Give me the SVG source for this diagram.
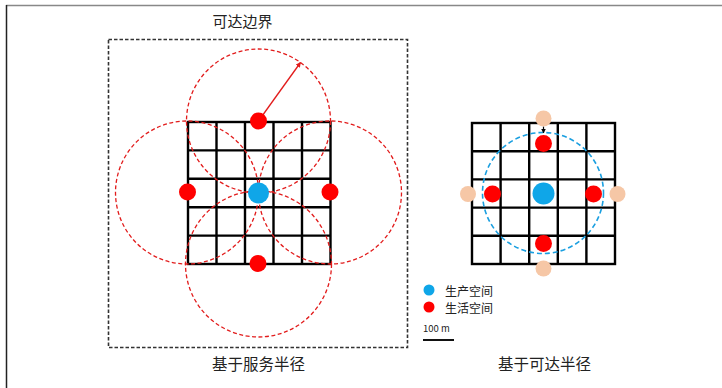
<svg xmlns="http://www.w3.org/2000/svg" width="722" height="388" viewBox="0 0 722 388">
<defs>
<style>
.grid{stroke:#000;stroke-width:2.4;fill:none}
.rc{fill:none;stroke:#e21c1c;stroke-width:1.3;stroke-dasharray:4 2.5}
.bc{fill:none;stroke:#1a9fe0;stroke-width:1.6;stroke-dasharray:5 3}
.red{fill:#ff0000}
.blue{fill:#0fa6e8}
.peach{fill:#f6c7a6}
.t{font-family:"Noto Sans CJK SC","Noto Sans",sans-serif;fill:#222}
</style>
<marker id="ah" viewBox="0 0 10 10" refX="9" refY="5" markerWidth="4" markerHeight="4" orient="auto">
<path d="M0,0 L10,5 L0,10 z" fill="#e21c1c"/>
</marker>
<marker id="ahk" viewBox="0 0 10 10" refX="9" refY="5" markerWidth="4" markerHeight="4" orient="auto">
<path d="M0,0 L10,5 L0,10 z" fill="#000"/>
</marker>
</defs>
<rect width="722" height="388" fill="#fff"/>
<line x1="6" y1="5.5" x2="722" y2="5.5" stroke="#888" stroke-width="1.5"/>
<line x1="6.5" y1="5" x2="6.5" y2="388" stroke="#222" stroke-width="1.5"/>

<g id="left-diagram">
<rect id="boundary" x="108.5" y="39.5" width="299" height="308" fill="none" stroke="#333" stroke-width="1.6" stroke-dasharray="3.5 2"/>
<g id="left-grid" class="grid">
<rect x="188" y="122" width="142.5" height="142"/>
<path d="M216.5,122V264M245,122V264M273.5,122V264M302,122V264M188,150.4H330.5M188,178.8H330.5M188,207.2H330.5M188,235.6H330.5"/>
</g>
<g id="service-circles">
<circle class="rc" cx="258.5" cy="121" r="72"/>
<circle class="rc" cx="258.5" cy="264" r="73"/>
<circle class="rc" cx="187" cy="192.5" r="71.5"/>
<circle class="rc" cx="330" cy="192.5" r="71.5"/>
</g>
<g id="connectors">
<line x1="258.5" y1="121" x2="300.5" y2="62.5" stroke="#e21c1c" stroke-width="1.3" marker-end="url(#ah)"/>
</g>
<g id="left-dots">
<circle class="blue" cx="258.5" cy="193" r="10.5"/>
<circle class="red" cx="258.5" cy="121" r="8.5"/>
<circle class="red" cx="258" cy="263.5" r="8.5"/>
<circle class="red" cx="187.5" cy="192" r="8.5"/>
<circle class="red" cx="330" cy="192" r="8.5"/>
</g>
<text class="t" x="242.5" y="27" font-size="15" text-anchor="middle">可达边界</text>
<text class="t" x="258.5" y="370" font-size="15.5" text-anchor="middle">基于服务半径</text>
</g>

<g id="right-diagram">
<g id="right-grid" class="grid">
<rect x="472" y="123" width="143" height="141"/>
<path d="M500.6,123V264M529.2,123V264M557.8,123V264M586.4,123V264M472,151.2H615M472,179.4H615M472,207.6H615M472,235.8H615"/>
</g>
<circle class="bc" cx="543" cy="193" r="60.5"/>
<g id="right-connector">
<line x1="543.5" y1="126.5" x2="543.5" y2="133" stroke="#000" stroke-width="1.2" marker-end="url(#ahk)"/>
</g>
<g id="right-dots">
<circle class="peach" cx="543.5" cy="118.5" r="8"/>
<circle class="peach" cx="468" cy="194" r="8"/>
<circle class="peach" cx="617.5" cy="194" r="8"/>
<circle class="peach" cx="543.5" cy="268.5" r="8"/>
<circle class="red" cx="543.5" cy="143.5" r="8.5"/>
<circle class="red" cx="492.5" cy="194" r="8.5"/>
<circle class="red" cx="593.5" cy="194" r="8.5"/>
<circle class="red" cx="543.5" cy="243.5" r="8.5"/>
<circle class="blue" cx="543.5" cy="193.5" r="11"/>
</g>
<text class="t" x="544.5" y="370" font-size="15.5" text-anchor="middle">基于可达半径</text>
</g>

<g id="legend">
<circle class="blue" cx="429" cy="290" r="5.5"/>
<text class="t" x="445" y="296" font-size="12">生产空间</text>
<circle class="red" cx="429" cy="307" r="5.5"/>
<text class="t" x="445" y="313" font-size="12">生活空间</text>
<text class="t" x="423" y="332" font-size="9.5">100 m</text>
<line x1="423" y1="340" x2="454" y2="340" stroke="#111" stroke-width="2"/>
</g>
</svg>
